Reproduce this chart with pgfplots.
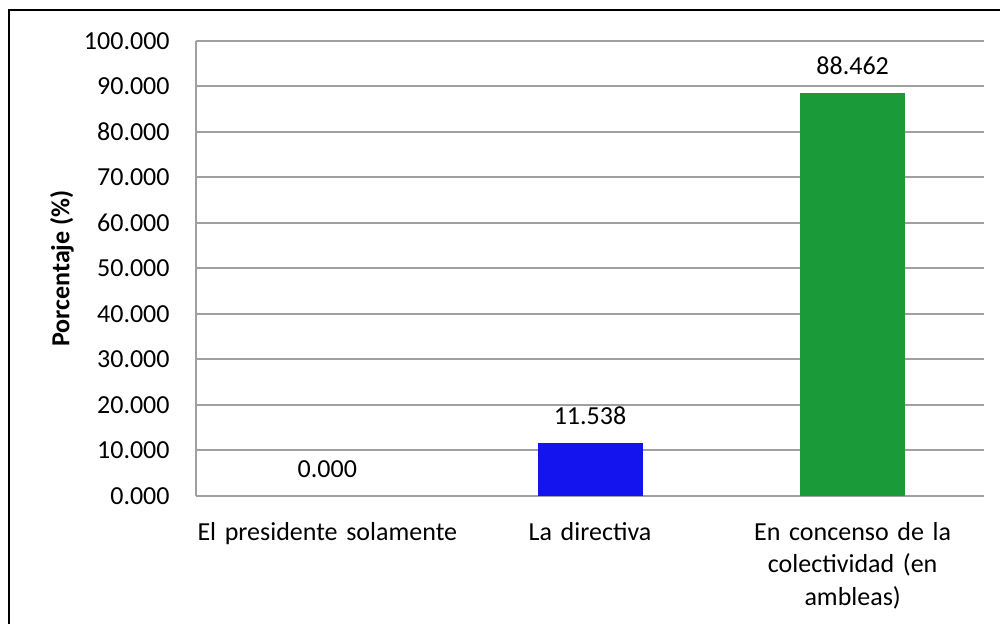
\documentclass[border=0pt]{standalone}
\usepackage{fontspec}
\setmainfont{Carlito}
\usepackage{pgfplots}
\pgfplotsset{compat=1.18}
\definecolor{barblue}{RGB}{20,20,238}
\definecolor{bargreen}{RGB}{26,154,56}
\definecolor{gridgray}{RGB}{160,160,160}
\begin{document}
\fontsize{13}{16.25}\selectfont
\begin{tikzpicture}
\useasboundingbox (0,0) rectangle (500pt,312pt);
\draw[line width=0.75pt] (4.5pt,0) -- (4.5pt,307pt) -- (500pt,307pt);
\begin{axis}[
    at={(98pt,64pt)}, anchor=south west,
    scale only axis,
    width=394pt, height=227.5pt,
    xmin=-0.5, xmax=2.5,
    ymin=0, ymax=100,
    ytick={0,10,...,100},
    xtick={0,1,2},
    xticklabels={El presidente solamente, La directiva, {En concenso de la\\colectividad (en\\ambleas)}},
    axis x line=bottom, axis y line=left,
    axis line style={draw=gridgray, line width=1pt, -},
    grid=none, ymajorgrids,
    grid style={draw=gridgray, line width=1pt},
    major tick length=0pt,
    tick style={draw=none},
    /pgf/number format/fixed,
    /pgf/number format/precision=3,
    /pgf/number format/fixed zerofill,
    /pgf/number format/1000 sep={},
    /pgf/number format/assume math mode=true,
    yticklabel style={anchor=east, inner sep=0pt, xshift=-13pt},
    xticklabel style={anchor=north, inner sep=0pt, yshift=-13pt, text width=180pt, align=center},
    ylabel={\bfseries Porcentaje (\%)},
    ylabel style={at={(axis description cs:-0.170,0.5)}, anchor=center, rotate=0},
    ybar, bar width=52.5pt,
    nodes near coords,
    every node near coord/.append style={anchor=south, inner sep=0pt, yshift=9pt, text=black},
]
\addplot[bar shift=0pt, draw=none, fill=none] coordinates {(0,0.000)};
\addplot[bar shift=0pt, draw=none, fill=barblue] coordinates {(1,11.538)};
\addplot[bar shift=0pt, draw=none, fill=bargreen] coordinates {(2,88.462)};
\end{axis}
\end{tikzpicture}
\end{document}
